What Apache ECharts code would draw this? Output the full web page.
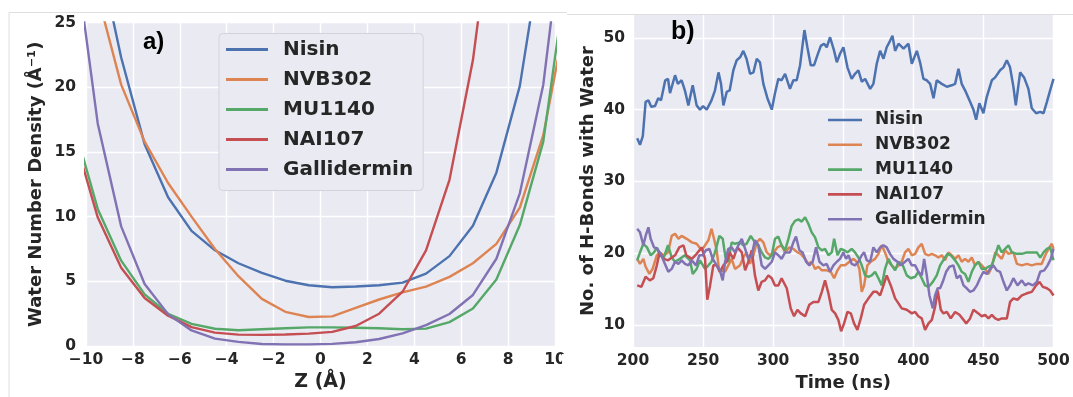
<!DOCTYPE html>
<html>
<head>
<meta charset="utf-8">
<script src="https://cdn.jsdelivr.net/npm/echarts@6/dist/echarts.min.js"></script>
<style>
html,body{margin:0;padding:0;background:#fff;}
#chart{width:1073px;height:397px;}
</style>
</head>
<body>
<div id="chart"></div>
<script>
// ---------- DATA ----------
const peptideNames = ['Nisin', 'NVB302', 'MU1140', 'NAI107', 'Gallidermin'];

// Panel a: water number density vs Z (Å)
const zPos = [-10.5,-9.5,-8.5,-7.5,-6.5,-5.5,-4.5,-3.5,-2.5,-1.5,-0.5,0.5,1.5,2.5,3.5,4.5,5.5,6.5,7.5,8.5,9.5,10.5];
const densNisin       = [39,30.7,22.3,15.6,11.5,8.9,7.4,6.4,5.65,5.05,4.7,4.55,4.6,4.7,4.9,5.6,6.95,9.3,13.4,20.1,31.5,44];
const densNVB302      = [34,27.1,20.2,15.8,12.6,10.0,7.5,5.4,3.65,2.65,2.25,2.3,2.95,3.6,4.15,4.6,5.35,6.4,7.9,10.7,16.3,25.7];
const densMU1140      = [17.0,10.6,6.6,4.0,2.5,1.72,1.34,1.22,1.3,1.38,1.45,1.45,1.42,1.38,1.3,1.35,1.85,2.9,5.15,9.35,15.8,28.8];
const densNAI107      = [16.2,9.95,6.05,3.72,2.35,1.46,1.04,0.89,0.87,0.9,0.96,1.1,1.55,2.5,4.2,7.4,12.85,22.1,36,50,60,70];
const densGallidermin = [30.8,17.2,9.25,4.8,2.47,1.21,0.58,0.33,0.16,0.13,0.13,0.17,0.3,0.55,0.98,1.62,2.48,3.95,6.75,11.8,20.2,35];
const zTicks = [-10,-8,-6,-4,-2,0,2,4,6,8,10];
const densTicks = [0,5,10,15,20,25];

// Panel b: number of H-bonds with water vs time (ns) — [time, count]
const hbNisin = [[203,36.0],[205,35.1],[207,36.3],[209,41.1],[211,41.3],[213,40.4],[215.7,40.5],[218,41.6],[220,41.3],[223,44.1],[225,44.3],[226.4,42.3],[230,44.8],[232,43.6],[234.7,44.1],[237,42.7],[239.5,40.6],[242.6,43.4],[245.4,40.6],[247.8,40.0],[250,40.5],[252.6,40.0],[256,41.3],[258.5,42.7],[261,45.2],[262.8,43.6],[264.5,40.6],[266.9,42.5],[269,42.7],[271.6,45.5],[274,46.9],[276.4,47.3],[278.7,48.2],[281,47.1],[283.5,45.0],[285.9,45.2],[288.3,47.1],[290.6,46.6],[293,43.6],[295.9,41.6],[299,40.0],[301.3,42.3],[303.7,44.3],[306,44.1],[308.5,45.0],[312,42.9],[314.4,44.1],[316.8,44.1],[319.2,46.2],[322.3,51.1],[324.4,48.7],[326.8,46.2],[329.2,46.2],[331.6,47.6],[334,48.9],[336.3,49.2],[338.2,48.7],[340.6,50.1],[343.5,48.2],[345.4,46.6],[347.7,47.8],[350.1,48.7],[353,45.9],[356,44.3],[358.4,45.0],[360.8,45.5],[363.2,43.9],[365.6,44.3],[369.2,42.9],[371.5,43.6],[373.9,46.4],[376.3,48.2],[378.7,47.1],[381,48.7],[383.4,49.6],[385.1,50.3],[387,48.2],[389.4,49.2],[393,48.5],[396.5,49.2],[398.9,46.4],[402.5,48.2],[404.8,46.6],[407.2,44.3],[409.6,44.1],[412,43.6],[414.4,41.6],[416.7,44.1],[420.3,43.6],[423.9,43.2],[427.4,43.4],[429.8,43.6],[432.2,45.7],[434.5,43.6],[436.9,42.7],[440.5,41.1],[442.9,40.0],[444.8,38.6],[447.1,40.9],[450,39.5],[452.4,41.8],[456,44.1],[458.4,44.5],[461.9,45.5],[464.3,45.9],[466.7,46.9],[469,45.9],[471.4,43.2],[473.1,40.6],[476.2,45.2],[479,44.5],[482.1,42.9],[484.5,40.2],[487.6,39.5],[490.5,39.7],[492.9,39.5],[495.3,41.1],[497.6,42.7],[500,44.3]];
const hbNVB302 = [[203,19.2],[205,18.5],[207.4,19.2],[209,18.1],[211.7,17.1],[214,17.8],[217,19.7],[219,20.1],[222,19.7],[225,20.1],[227.6,22.4],[230,22.7],[232.4,22.0],[234.7,22.4],[238.3,22.0],[242,21.5],[245.4,21.3],[249,20.4],[251.4,21.1],[253.8,21.8],[256,23.4],[257.8,22.0],[259.7,20.4],[261.6,17.4],[263.3,17.6],[265.7,17.4],[268,18.3],[270.4,19.2],[272.8,17.8],[276.4,18.3],[278.7,19.4],[281,20.1],[283.5,18.5],[285.9,19.7],[288.3,21.5],[290.6,22.0],[293,21.5],[295.4,20.1],[297.8,19.7],[300.2,20.1],[303,20.8],[306,21.1],[308.5,20.1],[311.5,20.8],[314.4,20.6],[317.3,20.1],[319.7,19.9],[322.8,19.2],[325.1,18.5],[327.5,18.8],[329.9,17.8],[332.3,18.1],[334.7,17.6],[338.2,17.6],[341.1,17.4],[343.5,16.5],[345.9,17.6],[348.2,18.3],[351.3,18.3],[354.4,18.8],[357.3,19.2],[359.6,18.8],[361.5,17.8],[363.2,14.6],[364.9,15.5],[367.2,18.3],[369.6,18.8],[372.7,19.2],[375.1,19.9],[377.5,21.1],[379.8,20.1],[382.2,18.8],[384.6,18.3],[387,17.8],[389.4,18.3],[391.7,18.8],[394.1,20.1],[396.5,20.6],[398.9,19.7],[401.3,19.9],[403.6,20.8],[406,21.3],[408.4,19.9],[410.8,19.7],[413.2,19.9],[415.5,19.7],[417.9,19.4],[420.3,19.7],[422.6,19.0],[425,20.1],[427.4,19.7],[429.8,19.2],[432.2,19.7],[434.5,18.8],[436.9,19.2],[439.3,18.8],[441.7,19.4],[444,18.3],[446.4,18.8],[448.8,18.3],[451.2,17.8],[453.6,17.1],[456,18.1],[458.4,20.1],[460.7,19.7],[463.1,19.2],[465.5,20.4],[467.9,19.9],[471.4,20.1],[473.9,18.5],[477.4,18.3],[481,18.5],[484.5,18.3],[488.1,18.5],[491.6,18.5],[494.1,19.7],[496.4,20.6],[498.8,21.3],[500,20.6]];
const hbMU1140 = [[203,19.0],[205,20.1],[207.4,21.3],[210,20.8],[212.6,19.7],[215,20.1],[217,20.8],[219,19.7],[222,19.4],[225,21.1],[227.6,19.4],[230,18.8],[233.5,19.2],[237,19.7],[240.7,19.0],[242.6,17.1],[245.4,17.8],[247.8,19.0],[251.4,17.8],[253.8,18.3],[256,18.8],[258.5,20.1],[261.6,22.4],[264,22.0],[266,19.4],[268,18.8],[270.4,21.5],[272.8,21.3],[276.4,21.5],[278.7,21.1],[281,21.3],[284,22.4],[287,21.5],[289.4,21.1],[291.8,20.1],[294.2,19.4],[296.6,19.2],[299,19.7],[301.3,22.0],[303.7,22.3],[306,21.1],[308.5,20.4],[310.9,22.0],[313.2,23.8],[315.6,24.5],[318,24.7],[320.4,24.4],[322.8,25.0],[325.1,24.1],[327.5,22.9],[329.9,22.2],[332.3,20.8],[334.7,20.4],[337,20.6],[339.4,19.7],[341.8,20.1],[343.5,22.0],[345.9,19.7],[348.2,20.6],[350.6,20.4],[353,20.1],[356,20.6],[358.4,20.1],[360.8,19.4],[363.2,18.3],[365.6,16.9],[368,16.7],[370.3,16.9],[372.7,17.4],[375.1,16.5],[377.5,15.5],[379.8,17.8],[382.2,19.2],[384.6,18.3],[387,17.6],[389.4,18.8],[392.5,18.3],[395.3,16.9],[398.2,16.5],[401.3,16.7],[403.6,17.4],[406,16.5],[408.4,15.5],[410.8,15.3],[413.9,16.0],[416.7,16.9],[419.1,18.3],[422,19.2],[424.3,19.9],[426.7,19.7],[429.8,19.0],[432.2,18.3],[434.5,17.4],[436.9,17.1],[439.3,16.0],[441.7,17.4],[444,18.3],[446.4,18.8],[448.8,17.8],[451.2,17.8],[453.6,18.1],[456,18.3],[458.4,19.7],[460.7,21.1],[463.1,20.1],[465.5,20.6],[467.9,21.1],[470.3,20.1],[473.9,19.9],[477.4,19.9],[481,20.1],[484.5,20.1],[488.1,20.1],[490.5,19.4],[492.9,20.1],[495.3,20.6],[497.6,20.8],[500,19.0]];
const hbNAI107 = [[203,15.5],[206,15.3],[209,16.7],[212,16.2],[214.5,16.5],[217,18.3],[219,20.1],[222,19.2],[225,19.0],[230,19.7],[233,20.8],[236,21.1],[238,19.7],[242,19.2],[245.4,19.9],[249,20.8],[251.4,19.2],[253,13.5],[255,15.5],[257.3,18.3],[259.7,18.3],[262,17.4],[264.5,18.3],[266.9,18.8],[269,20.1],[271.6,19.2],[274.5,20.8],[277.6,20.1],[280,17.6],[282.3,18.8],[284.7,20.4],[287,16.9],[289.4,14.8],[291.8,16.0],[294.2,16.2],[296.6,16.9],[299,16.5],[301.3,15.5],[303.7,15.5],[306,16.5],[309.7,15.1],[312.5,12.3],[314.9,11.2],[317.3,12.1],[319.7,11.6],[322.8,11.2],[325.8,12.8],[328.7,13.2],[332.3,13.2],[334.7,14.6],[337,16.2],[339.4,14.4],[341.8,12.1],[344.2,11.6],[346.5,10.7],[348.5,9.1],[350.6,10.2],[353,11.8],[355.4,11.6],[357.7,10.2],[360.1,9.3],[362.5,10.9],[364.9,12.8],[368,13.7],[371.5,14.6],[373.9,14.6],[376.3,14.1],[378.7,15.5],[381,16.9],[383.9,15.5],[387,13.7],[389.4,13.0],[391.7,12.3],[395.3,12.1],[398.9,11.6],[401.3,11.8],[403.6,11.2],[406,10.9],[408.4,9.3],[410.8,10.2],[413.2,10.7],[415.5,12.5],[417.4,14.8],[419.6,12.1],[421.5,11.6],[423.9,11.8],[426.7,10.9],[429.8,11.8],[432.9,11.4],[435.8,10.7],[437.7,10.2],[440.5,10.9],[442.9,12.1],[446.4,11.6],[448.8,11.2],[451.2,11.4],[453.6,10.9],[456,11.4],[458.4,10.9],[460.7,10.7],[463.1,10.9],[466.7,10.9],[469,13.2],[471.4,13.7],[474.3,13.5],[477.4,14.1],[481,14.4],[484.5,14.6],[487.6,15.5],[490,16.0],[492.4,15.3],[495.3,15.1],[497.6,14.8],[500,14.1]];
const hbGallidermin = [[203,23.4],[205,22.9],[207.4,21.1],[209,22.4],[211,23.6],[212.6,22.0],[215,20.8],[217.4,20.6],[219.7,19.9],[222.8,18.5],[225.2,17.4],[227.6,17.8],[230,18.8],[232.4,18.5],[234.7,19.0],[237.1,18.5],[239.5,18.3],[241.9,19.0],[245,18.3],[247.3,19.7],[249.7,19.7],[252,20.4],[254.5,20.6],[256.9,19.2],[259.7,18.3],[262,17.6],[264,16.2],[265.7,18.8],[268,20.6],[270.4,20.8],[272.8,20.1],[275.2,21.1],[277.6,22.0],[280,20.6],[282.3,19.2],[284.7,19.7],[287,21.8],[289.4,21.1],[291.8,18.3],[294.2,17.8],[296.6,18.3],[299,18.8],[301.3,20.1],[303.7,19.7],[306,19.2],[308.5,20.1],[312,20.1],[314.4,21.5],[316.3,22.3],[318.7,20.4],[321,20.1],[323.5,18.8],[325.8,18.3],[328.2,18.8],[330.6,20.8],[333,18.8],[335.8,18.3],[338.2,18.5],[340.6,17.4],[343,18.3],[345.4,18.8],[347.7,19.2],[350.1,20.1],[352,19.2],[353.7,19.7],[356,18.5],[358.4,18.3],[360.8,18.8],[363.2,19.7],[364.9,20.1],[366.8,19.0],[369.2,18.8],[371.5,20.8],[373.9,20.1],[376.3,20.8],[378.7,21.1],[381,20.8],[383.4,19.9],[385.8,19.2],[388.6,18.8],[391,18.3],[394.1,18.8],[396.5,19.2],[398.9,18.3],[401.3,18.3],[403.6,17.4],[406,16.9],[407.7,19.2],[409.6,16.9],[411.5,14.1],[413.9,12.3],[415.5,14.1],[417.4,15.1],[419.1,15.1],[421,16.0],[423.4,17.4],[425.8,18.1],[428.6,18.3],[431,16.5],[433.4,16.9],[435.8,15.5],[438.1,15.1],[440.5,14.6],[442.9,14.8],[445.3,15.5],[447.6,16.5],[450,17.4],[452.4,17.1],[454.8,17.8],[457.1,18.3],[459.5,17.6],[461.9,17.4],[464.3,16.0],[466.7,14.8],[469,15.5],[471.4,16.5],[474.3,15.5],[477.4,16.2],[479.8,15.5],[482.1,15.8],[485.3,15.5],[488.1,16.0],[490.5,17.4],[493.4,17.6],[495.8,18.3],[498.1,19.2],[500,20.6]];
const timeTicks = [200,250,300,350,400,450,500];
const hbTicks = [10,20,30,40,50];

// ---------- STYLE ----------
const colors = ['#4C72B0', '#DD8452', '#55A868', '#C44E52', '#8172B3'];
const FONT = "'DejaVu Sans', sans-serif";
const TXT = '#262626';
const BG = '#EAEAF2';

const densSeries = [densNisin, densNVB302, densMU1140, densNAI107, densGallidermin];
const hbSeries = [hbNisin, hbNVB302, hbMU1140, hbNAI107, hbGallidermin];

const series = [];
peptideNames.forEach((n, i) => {
  series.push({
    name: n, type: 'line', xAxisIndex: 0, yAxisIndex: 0,
    data: zPos.map((z, k) => [z, densSeries[i][k]]),
    showSymbol: false, symbol: 'none', clip: true,
    lineStyle: { color: colors[i], width: 2.4 }, itemStyle: { color: colors[i] },
    emphasis: { disabled: true }
  });
});
peptideNames.forEach((n, i) => {
  series.push({
    name: n, type: 'line', xAxisIndex: 1, yAxisIndex: 1,
    data: hbSeries[i],
    showSymbol: false, symbol: 'none', clip: true,
    lineStyle: { color: colors[i], width: 2.5 }, itemStyle: { color: colors[i] },
    emphasis: { disabled: true }
  });
});

const tickLabel = { fontFamily: FONT, fontWeight: 'bold', fontSize: 15.5, color: TXT };
const nameStyle = { fontFamily: FONT, fontWeight: 'bold', fontSize: 18, color: TXT };
const gridLine = { show: true, lineStyle: { color: '#ffffff', width: 1.4 } };

const option = {
  animation: false,
  backgroundColor: '#ffffff',
  grid: [
    { left: 86, top: 22.5, width: 469, height: 329, backgroundColor: BG, show: true, borderWidth: 0 },
    { left: 633, top: 15, width: 420.5, height: 334, backgroundColor: BG, show: true, borderWidth: 0 }
  ],
  xAxis: [
    { type: 'value', gridIndex: 0, min: -10, max: 10, interval: 2,
      axisLine: { show: false }, axisTick: { show: false }, splitLine: gridLine,
      axisLabel: Object.assign({ margin: 6, formatter: v => (v < 0 ? '\u2212' + Math.abs(v) : String(v)) }, tickLabel),
      name: 'Z (Å)', nameLocation: 'middle', nameGap: 25, nameTextStyle: Object.assign({}, nameStyle, { fontSize: 19 }) },
    { type: 'value', gridIndex: 1, min: 200, max: 500, interval: 50,
      axisLine: { show: false }, axisTick: { show: false }, splitLine: gridLine,
      axisLabel: Object.assign({ margin: 6 }, tickLabel),
      name: 'Time (ns)', nameLocation: 'middle', nameGap: 23, nameTextStyle: nameStyle }
  ],
  yAxis: [
    { type: 'value', gridIndex: 0, min: 0, max: 25, interval: 5,
      axisLine: { show: false }, axisTick: { show: false }, splitLine: gridLine,
      axisLabel: Object.assign({ margin: 10 }, tickLabel),
      name: 'Water Number Density (Å⁻¹)', nameLocation: 'middle', nameGap: 41, nameTextStyle: nameStyle },
    { type: 'value', gridIndex: 1, min: 6.9, max: 53.2,
      axisLine: { show: false }, axisTick: { show: false, customValues: hbTicks }, splitLine: gridLine,
      axisLabel: Object.assign({ margin: 8, customValues: hbTicks }, tickLabel),
      name: 'No. of H-Bonds with Water', nameLocation: 'middle', nameGap: 36, nameTextStyle: nameStyle }
  ],
  legend: [
    { data: peptideNames, orient: 'vertical', left: 219, top: 33.5,
      icon: 'rect', itemWidth: 42, itemHeight: 2.8, itemGap: 10,
      padding: [6, 10, 11, 7], backgroundColor: BG, borderColor: '#d3d3dc', borderWidth: 1, borderRadius: 4,
      selectedMode: false,
      textStyle: { fontFamily: FONT, fontWeight: 'bold', fontSize: 20, color: TXT, padding: [0, 0, 0, 10] } },
    { data: peptideNames, orient: 'vertical', left: 828, top: 111.5,
      icon: 'rect', itemWidth: 34, itemHeight: 2.6, itemGap: 7.8, padding: 0,
      selectedMode: false,
      textStyle: { fontFamily: FONT, fontWeight: 'bold', fontSize: 17, color: TXT, padding: [0, 0, 0, 8] } }
  ],
  graphic: [
    { type: 'line', z: 100, shape: { x1: 9, y1: 12.5, x2: 567, y2: 12.5 }, style: { stroke: '#dedede', lineWidth: 1 } },
    { type: 'line', z: 100, shape: { x1: 9, y1: 12.5, x2: 9, y2: 397 }, style: { stroke: '#dedede', lineWidth: 1 } },
    { type: 'line', z: 100, shape: { x1: 567, y1: 14.5, x2: 1073, y2: 14.5 }, style: { stroke: '#dedede', lineWidth: 1 } },
    { type: 'rect', z: 100, shape: { x: 562, y: 354, width: 40, height: 22 }, style: { fill: '#ffffff' } },
    { type: 'text', z: 100, style: { text: 'a)', x: 143, y: 42, verticalAlign: 'middle', font: "bold 24px 'Liberation Sans', Arial, sans-serif", fill: '#000' } },
    { type: 'text', z: 100, style: { text: 'b)', x: 671, y: 32, verticalAlign: 'middle', font: "bold 25px 'Liberation Sans', Arial, sans-serif", fill: '#000' } }
  ],
  series: series
};

const chart = echarts.init(document.getElementById('chart'), null, { renderer: 'canvas' });
chart.setOption(option);
</script>
</body>
</html>
